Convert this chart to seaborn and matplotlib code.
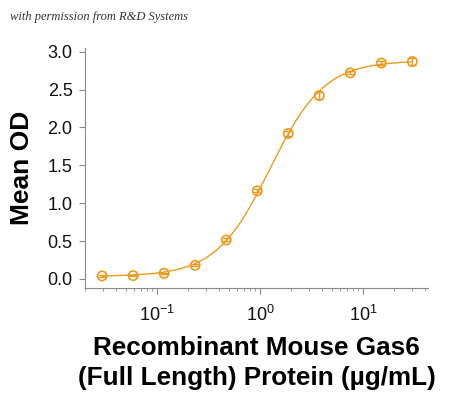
import numpy as np
import pandas as pd
import matplotlib
matplotlib.use("Agg")
import matplotlib.pyplot as plt
import seaborn as sns
from matplotlib.ticker import LogLocator, NullFormatter

# Data
conc = [0.0293, 0.0586, 0.117, 0.234, 0.469, 0.9375, 1.875, 3.75, 7.5, 15.0, 30.0]
mean_od = [0.04, 0.045, 0.075, 0.18, 0.515, 1.163, 1.92, 2.42, 2.72, 2.85, 2.87]
sd_od = [0.01, 0.01, 0.01, 0.015, 0.02, 0.02, 0.03, 0.05, 0.02, 0.025, 0.04]

# 4PL fit parameters
fit_bottom = 0.035
fit_top = 2.88
fit_ec50 = 1.25
fit_hill = 1.65

color = "#EA9B1F"

sns.set_style("white")
plt.rcParams['font.family'] = ['Liberation Sans', 'DejaVu Sans']
plt.rcParams['mathtext.fontset'] = 'custom'
plt.rcParams['mathtext.rm'] = 'Liberation Sans'
plt.rcParams['mathtext.it'] = 'Liberation Sans'
plt.rcParams['mathtext.default'] = 'regular'

fig = plt.figure(figsize=(4.5, 3.99), dpi=100)
ax = fig.add_axes([0.189, 0.278, 0.762, 0.602])

df = pd.DataFrame({"conc": conc, "od": mean_od, "sd": sd_od})

xs = np.logspace(np.log10(conc[0]), np.log10(conc[-1]), 300)
ys = fit_bottom + (fit_top - fit_bottom) / (1 + (fit_ec50 / xs) ** fit_hill)
sns.lineplot(x=xs, y=ys, ax=ax, color=color, linewidth=1.0)

ax.errorbar(df["conc"], df["od"], yerr=df["sd"], fmt="none", ecolor=color,
            elinewidth=1.0, capsize=3, capthick=1.0)
sns.scatterplot(data=df, x="conc", y="od", ax=ax, marker="o", s=45,
                facecolor="none", edgecolor=color, linewidth=1.2, zorder=5)

ax.set_xscale("log")
ax.set_xlim(0.02, 42.5)
ax.set_ylim(-0.12, 3.05)
ax.set_yticks([0.0, 0.5, 1.0, 1.5, 2.0, 2.5, 3.0])
ax.set_yticklabels(["0.0", "0.5", "1.0", "1.5", "2.0", "2.5", "3.0"])
ax.xaxis.set_major_locator(LogLocator(base=10, numticks=10))
ax.xaxis.set_minor_locator(LogLocator(base=10, subs=np.arange(2, 10), numticks=20))
ax.xaxis.set_minor_formatter(NullFormatter())

for s in ["top", "right"]:
    ax.spines[s].set_visible(False)
for s in ["left", "bottom"]:
    ax.spines[s].set_color("#888888")
    ax.spines[s].set_linewidth(0.8)

ax.tick_params(axis="both", which="both", bottom=True, left=True)
ax.tick_params(axis="both", which="major", direction="out", length=4, width=0.8,
               color="#888888", labelsize=13, pad=5, labelcolor="#111111")
ax.tick_params(axis="x", which="minor", direction="out", length=2.5, width=0.6,
               color="#888888")
ax.tick_params(axis="x", which="major", pad=8)

ax.set_xlabel("Recombinant Mouse Gas6\n(Full Length) Protein (µg/mL)",
              fontsize=18.8, fontweight="bold", labelpad=8, linespacing=1.3,
              color="black")
ax.set_ylabel("Mean OD", fontsize=19, fontweight="bold", labelpad=10,
              color="black")

fig.text(0.022, 0.958, "with permission from R&D Systems", fontsize=9,
         fontstyle="italic", family=["Liberation Serif", "DejaVu Serif"],
         color="#333333", va="center", ha="left")

fig.savefig("out.png", dpi=100, facecolor="white")
